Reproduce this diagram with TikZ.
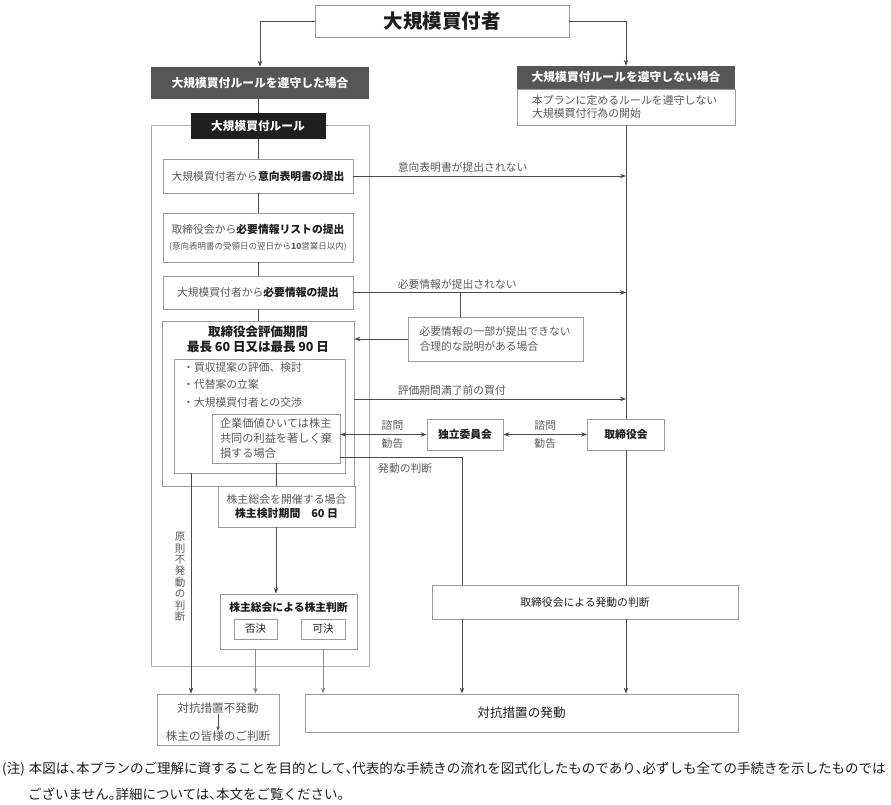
\documentclass[tikz,border=0pt]{standalone}
\usepackage{fontspec}
\setmainfont{Noto Sans CJK JP}
\usetikzlibrary{arrows.meta,positioning}
\definecolor{linegray}{HTML}{4A4A4A}
\definecolor{softgray}{HTML}{8C8C8C}
\definecolor{boxgray}{HTML}{9A9A9A}
\definecolor{textgray}{HTML}{5A5A5A}
\definecolor{headgray}{HTML}{565656}
\definecolor{darktext}{HTML}{1E1E1E}
\newcommand{\setfs}[2]{\fontsize{#1}{#2}\selectfont}
\newcommand{\strongtext}[1]{{\bfseries\color{darktext}#1}}
\newcommand{\halfcomma}{\makebox[0.5em][l]{、}}
\newcommand{\halfstop}{\makebox[0.5em][l]{。}}
\tikzset{boxsize/.style 2 args={minimum width=#1pt, minimum height=#2pt}}
\tikzset{plain box/.style={rectangle, draw=boxgray, fill=white, line width=0.8pt,
    inner sep=0pt, align=center, text=textgray, font=\setfs{10.8}{15}}}
\tikzset{head box/.style={rectangle, fill=headgray, inner sep=0pt, text=white,
    font=\setfs{11.8}{14}\bfseries}}
\tikzset{frame box/.style={rectangle, draw=boxgray!80, line width=0.8pt, inner sep=0pt}}
\tikzset{edge label/.style={inner sep=0pt, text=textgray, font=\setfs{10.8}{13}}}
\tikzset{link/.style={draw=linegray, line width=0.8pt}}
\tikzset{soft link/.style={draw=softgray, line width=0.8pt}}
\tikzset{forward/.style={-{Stealth[length=6pt,width=4.5pt]}}}
\tikzset{twoway/.style={{Stealth[length=6pt,width=4.5pt]}-{Stealth[length=6pt,width=4.5pt]}}}
\tikzset{note/.style={inner sep=0pt, anchor=west, text=darktext, font=\setfs{13.5}{16}}}

\begin{document}
\begin{tikzpicture}[x=1pt, y=-1pt]
  \useasboundingbox (0,0) rectangle (891,805);

  % who buys, and the two cases
  \node [plain box, boxsize={254}{32}, text=darktext, font=\setfs{19.5}{22}\bfseries]
                                           (buyer)      at (442, 21)    {大規模買付者};
  \node [head box, boxsize={218}{32}]      (lhead)      at (260, 83)    {大規模買付ルールを遵守した場合};
  \node [plain box, boxsize={218}{36}, text width=188pt, inner xsep=15pt, align=left, font=\setfs{10.9}{13.5}]
                                           (rbody)      at (626, 107)   {本プランに定めるルールを遵守しない\\大規模買付行為の開始};
  \node [head box, boxsize={218}{23}]      (rhead)      at (626, 77.5)  {大規模買付ルールを遵守しない場合};

  % the rule procedure
  \node [frame box, boxsize={218}{541}]    (rulearea)   at (260, 395.5) {};
  \node [rectangle, fill=black!88, inner sep=0pt, boxsize={135}{26}, text=white, font=\setfs{11.7}{14}\bfseries]
                                           (rules)      at (258, 126)   {大規模買付ルール};
  \node [plain box, boxsize={190}{34}]     (intent)     at (258, 176)   {大規模買付者から\strongtext{意向表明書の提出}};
  \node [plain box, boxsize={190}{49}, font=\setfs{10.8}{16}]
                                           (list)       at (258, 237.5) {取締役会から\strongtext{必要情報リストの提出}\\{\setfs{8.5}{10}(意向表明書の受領日の翌日から\textbf{10}営業日以内)}};
  \node [plain box, boxsize={190}{33}]     (info)       at (258, 292.5) {大規模買付者から\strongtext{必要情報の提出}};
  \node [plain box, boxsize={192}{165}]    (eval)       at (258, 403.5) {};
  \node [inner sep=0pt, align=center, text=darktext, font=\setfs{12.5}{15}\bfseries]
                                           (evaltitle)  at (258, 339.5) {取締役会評価期間\\最長 60 日又は最長 90 日};
  \node [plain box, boxsize={171}{114}]    (tasks)      at (259.5, 416) {};
  \node [edge label, align=left, anchor=north west, font=\setfs{10.8}{17.5}]
                                           (tasktext)   at (183, 362)   {・買収提案の評価、検討\\・代替案の立案\\・大規模買付者との交渉};
  \node [plain box, boxsize={128}{49}, align=left, font=\setfs{11.2}{15}]
                                           (harm)       at (276, 438.5) {企業価値ひいては株主\\共同の利益を著しく棄\\損する場合};
  \node [plain box, boxsize={137}{41}, font=\setfs{10.9}{14}]
                                           (meeting)    at (286.5, 506.5) {株主総会を開催する場合\\\strongtext{株主検討期間　60 日}};
  \node [plain box, boxsize={137}{55}]     (vote)       at (288.5, 621.5) {};
  \node [inner sep=0pt, text=darktext, font=\setfs{10.8}{13}\bfseries]
                                           (votetitle)  at (288.5, 607) {株主総会による株主判断};
  \node [plain box, boxsize={43}{20}, text=darktext, font=\setfs{10.5}{12}]
                                           (reject)     at (255.5, 629) {否決};
  \node [plain box, boxsize={44}{20}, text=darktext, font=\setfs{10.5}{12}]
                                           (approve)    at (323, 629)   {可決};

  % the right hand side
  \node [plain box, boxsize={175}{44}, text width=152pt, inner xsep=11.5pt, align=left]
                                           (partial)    at (495.5, 339) {必要情報の一部が提出できない\\合理的な説明がある場合};
  \node [plain box, boxsize={76}{31}, text=darktext, font=\setfs{10.8}{13}\bfseries]
                                           (committee)  at (465, 434.5) {独立委員会};
  \node [plain box, boxsize={77}{31}, text=darktext, font=\setfs{10.8}{13}\bfseries]
                                           (board)      at (626, 434.5) {取締役会};
  \node [plain box, boxsize={306}{34}, text=darktext]
                                           (boardjudge) at (585, 602)   {取締役会による発動の判断};

  % outcomes
  \node [plain box, boxsize={122}{51}]     (noinvoke)   at (218, 719.5) {};
  \node [edge label, font=\setfs{11.6}{13}] (noinv1)    at (218, 708)   {対抗措置不発動};
  \node [edge label, font=\setfs{11.6}{13}] (noinv2)    at (218, 736)   {株主の皆様のご判断};
  \node [plain box, boxsize={433}{38}, text=darktext, font=\setfs{12.6}{14}]
                                           (invoke)     at (521.5, 713) {対抗措置の発動};

  \coordinate (split) at (460, 292.5);
  \coordinate (turn)  at (462, 457);

  % connectors
  \draw [link, forward] (buyer.west) -| (lhead.north);
  \draw [link, forward] (buyer.east) -| (rhead.north);
  \draw [link] (lhead.south -| rules.north) -- (rules.north);
  \draw [link] (rules.south)  -- (intent.north);
  \draw [link] (intent.south) -- (list.north);
  \draw [link] (list.south)   -- (info.north);
  \draw [link] (info.south)   -- (eval.north);

  \draw [link, forward] (intent.east) -- (intent.east -| rbody.south)
    node [edge label, at start, anchor=south west, xshift=44pt, yshift=3pt] {意向表明書が提出されない};
  \draw [link, forward] (info.east) -- (info.east -| rbody.south)
    node [edge label, at start, anchor=south west, xshift=44pt, yshift=3pt] {必要情報が提出されない};
  \draw [link] (split) -- (split |- partial.north);
  \draw [link, forward] (partial.west) -- (partial.west -| eval.east);
  \draw [link, forward] ([yshift=4.5pt]eval.east) -- ([yshift=4.5pt]eval.east -| rbody.south)
    node [edge label, at start, anchor=south west, xshift=43pt, yshift=3pt] {評価期間満了前の買付};

  \draw [link, twoway] (harm.east |- committee.west) -- (committee.west)
    node [edge label, midway, above=4pt, xshift=9pt] {諮問}
    node [edge label, midway, below=4pt, xshift=9pt] {勧告};
  \draw [link, twoway] (committee.east) -- (board.west)
    node [edge label, midway, above=4pt] {諮問}
    node [edge label, midway, below=4pt] {勧告};

  \draw [link] (rbody.south) -- (board.north);
  \draw [link] (board.south) -- (board.south |- boardjudge.north);
  \draw [link, forward] (board.south |- boardjudge.south) -- (board.south |- invoke.north);

  \draw [link] ([yshift=-18.5pt]harm.east) -- (turn) -- (turn |- boardjudge.north);
  \node [edge label, anchor=north west] (judgetext) at (378, 463) {発動の判断};
  \draw [link, forward] (turn |- boardjudge.south) -- (turn |- invoke.north);

  \draw [link] (harm.south) -- (harm.south |- meeting.north);
  \draw [link, forward] (harm.south |- meeting.south) -- (harm.south |- vote.north);

  \draw [link, forward] ([xshift=-68.5pt]tasks.south) -- ([xshift=-68.5pt]tasks.south |- noinvoke.north);
  \node [edge label, align=center, font=\setfs{10.5}{11.4}] (nojudge) at (180, 577)
    {原\\則\\不\\発\\動\\の\\判\\断};

  \draw [soft link, forward] (reject.south |- vote.south) -- (reject.south |- noinvoke.north);
  \draw [soft link, forward] (approve.south |- vote.south) -- (approve.south |- invoke.north);
  \draw [link, -{Stealth[length=4pt,width=3.5pt]}] (noinv1.south) -- (noinv2.north);

  % footnote
  \node [note] (note1) at (2, 769)  {(注)\hspace{4pt}本図は\halfcomma 本プランのご理解に資することを目的として\halfcomma 代表的な手続きの流れを図式化したものであり\halfcomma 必ずしも全ての手続きを示したものでは};
  \node [note] (note2) at (28, 794) {ございません\halfstop 詳細については\halfcomma 本文をご覧ください。};
\end{tikzpicture}
\end{document}
